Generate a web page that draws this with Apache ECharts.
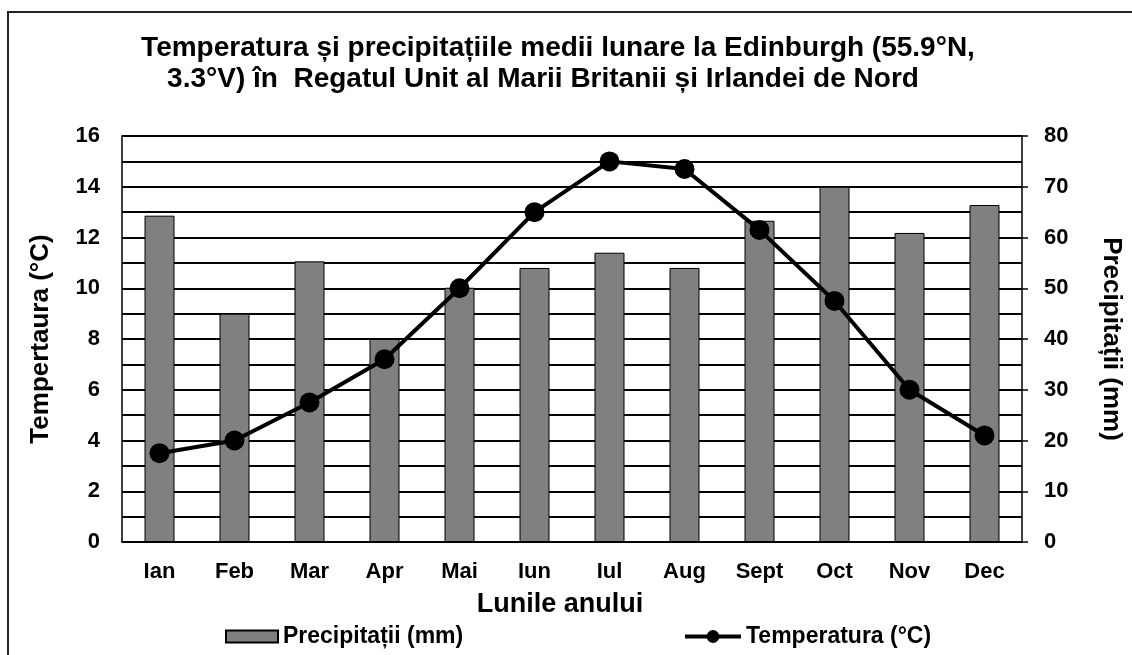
<!DOCTYPE html>
<html>
<head>
<meta charset="utf-8">
<script src="https://cdn.jsdelivr.net/npm/echarts@6/dist/echarts.min.js"></script>
<style>
html,body{margin:0;padding:0;background:#fff;}
#c{width:1132px;height:655px;}
</style>
</head>
<body>
<div id="c"></div>
<script>
const months = ['Ian','Feb','Mar','Apr','Mai','Iun','Iul','Aug','Sept','Oct','Nov','Dec'];
const precipitation = [64.3, 45, 55.3, 40, 50.1, 54, 57, 54, 63.3, 70, 60.9, 66.4];
const temperature = [3.5, 4.0, 5.5, 7.2, 10.0, 13.0, 15.0, 14.7, 12.3, 9.5, 6.0, 4.2];
const titleLine1 = 'Temperatura și precipitațiile medii lunare la Edinburgh (55.9°N,';
const titleLine2 = '3.3°V) în  Regatul Unit al Marii Britanii și Irlandei de Nord';

const F = '"Liberation Sans", Arial, sans-serif';
const chart = echarts.init(document.getElementById('c'), null, {renderer: 'canvas'});
chart.setOption({
  backgroundColor: '#fff',
  animation: false,
  graphic: [{
    type: 'rect', shape: {x: 8, y: 12, width: 1140, height: 660},
    style: {fill: 'none', stroke: '#222', lineWidth: 2}, z: 0
  }],
  title: [
    {text: titleLine1, left: 553, top: 29, textAlign: 'center',
     textStyle: {fontFamily: F, fontWeight: 'bold', fontSize: 28, color: '#000'}},
    {text: titleLine2, left: 538, top: 60, textAlign: 'center',
     textStyle: {fontFamily: F, fontWeight: 'bold', fontSize: 28, color: '#000'}}
  ],
  legend: [
    {data: [{name: 'Precipitații (mm)', icon: 'rect'}], left: 225, top: 625, padding: 0,
     itemWidth: 52, itemHeight: 12,
     textStyle: {fontFamily: F, fontWeight: 'bold', fontSize: 23, color: '#000'}},
    {data: ['Temperatura (°C)'], left: 683, top: 625, padding: 0,
     itemWidth: 56, itemHeight: 16,
     lineStyle: {width: 4, color: '#000'},
     textStyle: {fontFamily: F, fontWeight: 'bold', fontSize: 23, color: '#000'}}
  ],
  grid: {left: 122, right: 109, top: 136, bottom: 113, containLabel: false},
  xAxis: {
    type: 'category', data: months,
    name: 'Lunile anului', nameLocation: 'middle', nameGap: 49,
    nameTextStyle: {fontFamily: F, fontWeight: 'bold', fontSize: 27, color: '#000', padding: [0, 24, 0, 0]},
    axisLine: {lineStyle: {color: '#000', width: 1.5}},
    axisTick: {show: false},
    axisLabel: {fontFamily: F, fontWeight: 'bold', fontSize: 22, color: '#000', margin: 19}
  },
  yAxis: [
    {
      type: 'value', min: 0, max: 16, interval: 1, position: 'left',
      name: 'Tempertaura (°C)', nameLocation: 'middle', nameGap: 68, nameRotate: 90,
      nameTextStyle: {fontFamily: F, fontWeight: 'bold', fontSize: 26, color: '#000'},
      axisLine: {show: true, lineStyle: {color: '#000', width: 1.5}},
      axisTick: {show: false},
      axisLabel: {fontFamily: F, fontWeight: 'bold', fontSize: 22, color: '#000', margin: 22,
        formatter: v => (v % 2 === 0 ? String(v) : '')},
      splitLine: {show: true, lineStyle: {color: '#000', width: 1.8}}
    },
    {
      type: 'value', min: 0, max: 80, interval: 10, position: 'right',
      name: 'Precipitații (mm)', nameLocation: 'middle', nameGap: 76, nameRotate: -90,
      nameTextStyle: {fontFamily: F, fontWeight: 'bold', fontSize: 26, color: '#000'},
      axisLine: {show: true, lineStyle: {color: '#000', width: 1.5}},
      axisTick: {show: true, length: 6, lineStyle: {color: '#000', width: 1.5}},
      axisLabel: {fontFamily: F, fontWeight: 'bold', fontSize: 22, color: '#000', margin: 22},
      splitLine: {show: false}
    }
  ],
  series: [
    {
      name: 'Precipitații (mm)', type: 'bar', yAxisIndex: 1, data: precipitation,
      barWidth: 30,
      itemStyle: {color: '#808080', borderColor: '#000', borderWidth: 1}
    },
    {
      name: 'Temperatura (°C)', type: 'line', yAxisIndex: 0, data: temperature,
      symbol: 'circle', symbolSize: 20,
      lineStyle: {color: '#000', width: 4},
      itemStyle: {color: '#000'}
    }
  ]
});
</script>
</body>
</html>
